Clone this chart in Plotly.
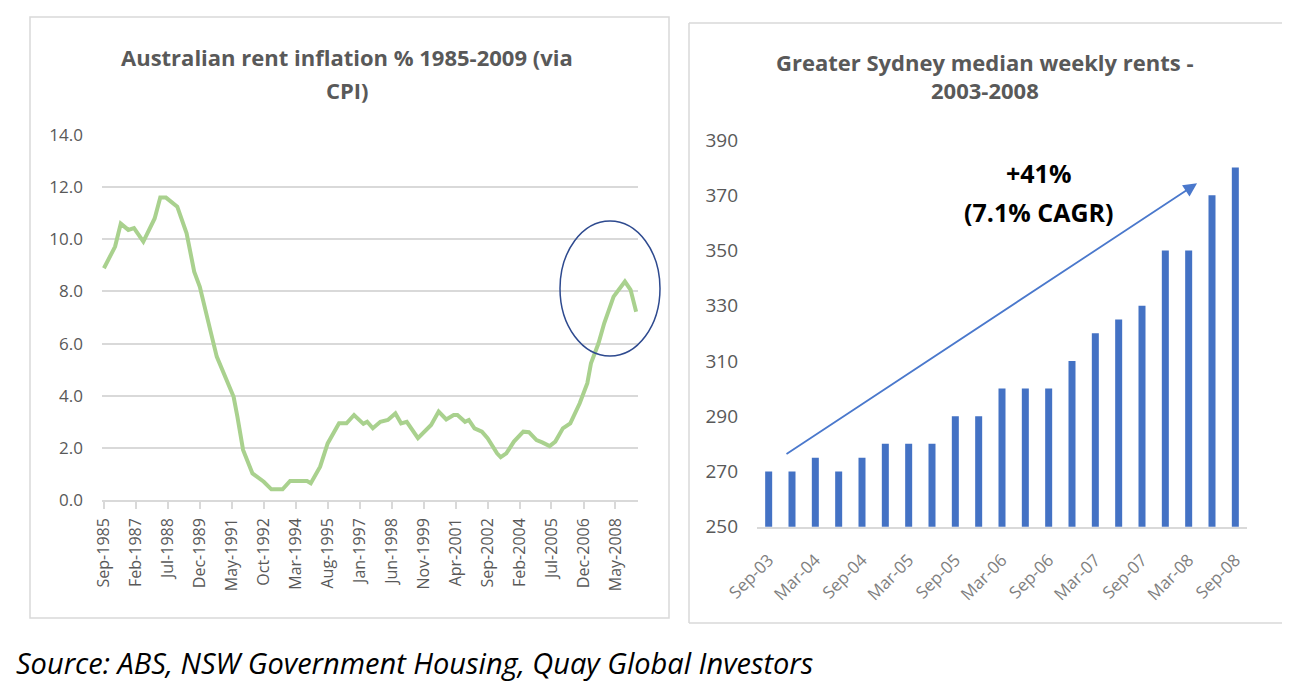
import pandas as pd
import plotly.graph_objects as go

# ---------------- data: left chart (rent inflation %, via CPI) ----------------
cpi_months = [
    "1985-09", "1986-03", "1986-06", "1986-10", "1987-01", "1987-06", "1987-12",
    "1988-03", "1988-06", "1988-12", "1989-05", "1989-09", "1989-12", "1990-04",
    "1990-06", "1990-09", "1991-02", "1991-06", "1991-08", "1991-11", "1992-04",
    "1992-10", "1993-02", "1993-08", "1993-12", "1994-09", "1994-11", "1995-04",
    "1995-08", "1996-02", "1996-06", "1996-10", "1997-03", "1997-05", "1997-08",
    "1997-12", "1998-04", "1998-08", "1998-11", "1999-02", "1999-08", "1999-12",
    "2000-03", "2000-07", "2000-11", "2001-03", "2001-05", "2001-09", "2001-11",
    "2002-02", "2002-06", "2002-09", "2003-02", "2003-04", "2003-07", "2003-11",
    "2004-04", "2004-07", "2004-11", "2005-02", "2005-06", "2005-09", "2006-01",
    "2006-05", "2006-10", "2007-02", "2007-04", "2007-08", "2007-11", "2008-04",
    "2008-07", "2008-10", "2009-01", "2009-04",
]
cpi_rent_inflation = [
    8.89, 9.72, 10.6, 10.36, 10.43, 9.91, 10.8,
    11.6, 11.6, 11.25, 10.23, 8.76, 8.18, 6.9,
    6.39, 5.5, 4.6, 3.96, 3.2, 1.92, 1.02,
    0.70, 0.41, 0.41, 0.73, 0.73, 0.64, 1.28,
    2.17, 2.94, 2.94, 3.26, 2.92, 3.0, 2.75,
    3.0, 3.07, 3.32, 2.94, 3.0, 2.37, 2.69,
    2.88, 3.39, 3.09, 3.26, 3.26, 3.0, 3.07,
    2.75, 2.62, 2.37, 1.79, 1.64, 1.79, 2.24,
    2.62, 2.6, 2.30, 2.21, 2.07, 2.24, 2.75,
    2.94, 3.71, 4.48, 5.24, 6.01, 6.78, 7.8,
    8.06, 8.38, 8.06, 7.22,
]
cpi_tick_labels = [
    "Sep-1985", "Feb-1987", "Jul-1988", "Dec-1989", "May-1991", "Oct-1992",
    "Mar-1994", "Aug-1995", "Jan-1997", "Jun-1998", "Nov-1999", "Apr-2001",
    "Sep-2002", "Feb-2004", "Jul-2005", "Dec-2006", "May-2008",
]
cpi_y_ticks = [0, 2, 4, 6, 8, 10, 12, 14]

# ---------------- data: right chart (Greater Sydney median weekly rents) ----------------
rent_quarters = [
    "Sep-03", "Dec-03", "Mar-04", "Jun-04", "Sep-04", "Dec-04", "Mar-05",
    "Jun-05", "Sep-05", "Dec-05", "Mar-06", "Jun-06", "Sep-06", "Dec-06",
    "Mar-07", "Jun-07", "Sep-07", "Dec-07", "Mar-08", "Jun-08", "Sep-08",
]
rent_values = [
    270, 270, 275, 270, 275, 280, 280,
    280, 290, 290, 300, 300, 300, 310,
    320, 325, 330, 350, 350, 370, 380,
]
rent_tick_labels = rent_quarters[::2]
rent_y_ticks = [250, 270, 290, 310, 330, 350, 370, 390]

# ---------------- figure ----------------
OFF = 8                      # page body margin in the browser
W, H = 1309 - OFF, 688 - OFF
FONT = "Open Sans, Lato, sans-serif"
GREY_TXT = "#595959"
GRID = "#D9D9D9"


def px(x):
    return (x - OFF) / W


def py(y):
    return 1 - (y - OFF) / H


cpi_dates = pd.to_datetime(cpi_months, format="%Y-%m")
cpi_tick_dates = pd.to_datetime(cpi_tick_labels, format="%b-%Y")

fig = go.Figure()
fig.add_trace(go.Scatter(
    x=cpi_dates, y=cpi_rent_inflation, mode="lines",
    line=dict(color="#A9D18E", width=4), xaxis="x", yaxis="y",
    showlegend=False, hoverinfo="skip",
))
fig.add_trace(go.Bar(
    x=rent_quarters, y=rent_values, marker=dict(color="#4472C4", line_width=0),
    xaxis="x2", yaxis="y2", showlegend=False, hoverinfo="skip",
))

fig.update_layout(
    width=W, height=H,
    margin=dict(l=0, r=0, t=0, b=0, autoexpand=False),
    paper_bgcolor="white", plot_bgcolor="white",
    font=dict(family=FONT, color=GREY_TXT, size=17),
    bargap=0.70,
    xaxis=dict(
        domain=[px(102), px(638)], type="date",
        range=["1985-08-01", "2009-05-01"],
        tickmode="array", tickvals=cpi_tick_dates, ticktext=cpi_tick_labels,
        tickangle=-90, ticks="outside", ticklen=7, tickcolor=GRID, tickwidth=1.5,
        showline=True, linecolor=GRID, linewidth=1.5,
        showgrid=False, zeroline=False, automargin=False,
        ticklabelstandoff=3,
        tickfont=dict(size=16, color=GREY_TXT),
        anchor="y",
    ),
    yaxis=dict(
        domain=[py(500), py(135)], range=[0, 14],
        tickmode="array", tickvals=cpi_y_ticks, tickformat=".1f",
        showgrid=True, gridcolor=GRID, gridwidth=1.5,
        zeroline=False, showline=False, automargin=False,
        ticklabelstandoff=18,
        tickfont=dict(size=17, color=GREY_TXT),
        anchor="x",
    ),
    xaxis2=dict(
        domain=[px(757), px(1247)], type="category",
        range=[-0.5, len(rent_quarters) - 0.5],
        tickmode="array", tickvals=rent_tick_labels, ticktext=rent_tick_labels,
        tickangle=-45, ticks="",
        showline=True, linecolor=GRID, linewidth=1.5,
        showgrid=False, zeroline=False, automargin=False,
        ticklabelstandoff=15,
        tickfont=dict(size=17, color="#7F7F7F"),
        anchor="y2",
    ),
    yaxis2=dict(
        domain=[py(526.7), py(140)], range=[250, 390],
        tickmode="array", tickvals=rent_y_ticks,
        showgrid=False, zeroline=False, showline=False, automargin=False,
        ticklabelstandoff=18,
        tickfont=dict(size=19, color=GREY_TXT),
        anchor="x2",
    ),
)

shapes = [
    # left panel border
    dict(type="rect", xref="paper", yref="paper",
         x0=px(30), x1=px(669), y0=py(618), y1=py(17),
         line=dict(color=GRID, width=1.5), fillcolor="rgba(0,0,0,0)", layer="below"),
    # right panel border (left, top, bottom)
    dict(type="line", xref="paper", yref="paper",
         x0=px(689), x1=px(1282), y0=py(23), y1=py(23), line=dict(color=GRID, width=1.5)),
    dict(type="line", xref="paper", yref="paper",
         x0=px(689), x1=px(1282), y0=py(623), y1=py(623), line=dict(color=GRID, width=1.5)),
    dict(type="line", xref="paper", yref="paper",
         x0=px(689), x1=px(689), y0=py(23), y1=py(623), line=dict(color=GRID, width=1.5)),
    # highlight ellipse
    dict(type="circle", xref="paper", yref="paper",
         x0=px(560), x1=px(660), y0=py(356), y1=py(221),
         line=dict(color="#2E4A8F", width=1.5)),
]
fig.update_layout(shapes=shapes)


def text_ann(x, y, text, size, color, anchor="center"):
    return dict(xref="paper", yref="paper", x=px(x), y=py(y), text=text,
                showarrow=False, xanchor=anchor, yanchor="middle",
                font=dict(size=size, color=color, family=FONT))


annotations = [
    text_ann(347, 57, "<b>Australian rent inflation % 1985-2009 (via</b>", 22, GREY_TXT),
    text_ann(347, 90, "<b>CPI)</b>", 22, GREY_TXT),
    text_ann(985, 61.7, "<b>Greater Sydney median weekly rents -</b>", 22, GREY_TXT),
    text_ann(985, 90, "<b>2003-2008</b>", 22, GREY_TXT),
    text_ann(1038, 173, "<b>+41%</b>", 25, "#000000"),
    text_ann(1038, 212, "<b>(7.1% CAGR)</b>", 25, "#000000"),
    dict(xref="x2", yref="y2", axref="x2", ayref="y2",
         x=18.36, y=374.3, ax=0.7, ay=276.0, text="",
         showarrow=True, arrowhead=2, arrowsize=1.5, arrowwidth=1.8,
         arrowcolor="#4A78CC"),
    text_ann(14, 662, "<i>Source: ABS, NSW Government Housing, Quay Global Investors</i>",
             29, "#000000", anchor="left"),
]
fig.update_layout(annotations=annotations)

fig.write_html("out.html")
